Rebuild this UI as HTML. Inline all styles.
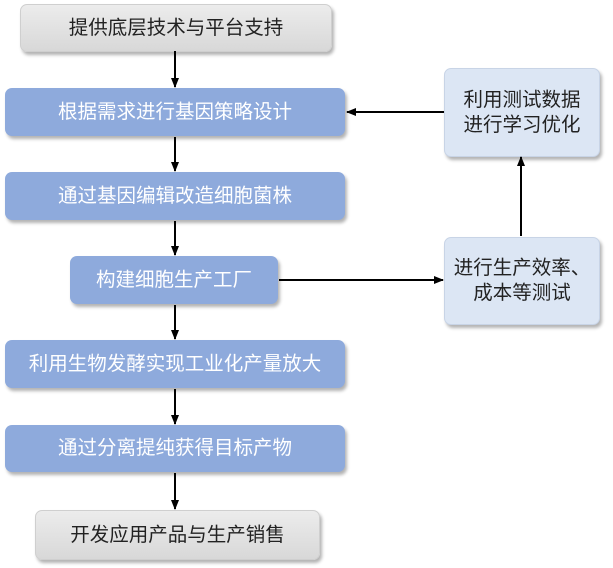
<!DOCTYPE html>
<html><head><meta charset="utf-8"><style>
body{margin:0;width:613px;height:568px;background:#fff;position:relative;overflow:hidden;font-family:"Liberation Sans","Noto Sans CJK SC",sans-serif;}
.b{position:absolute;border-radius:7px;display:flex;align-items:center;justify-content:center;text-align:center;font-size:19.5px;box-shadow:2px 3px 3px rgba(0,0,0,0.3);line-height:25px;}
.g{background:linear-gradient(#ececec,#d8d8d8);color:#222;border:1px solid #cfcfcf;}
.u{background:#8eaadc;color:#fff;}
.l{background:#dce6f4;color:#222;border:1px solid #c8d4e6;}
</style></head><body>
<div class="b g" style="left:20px;top:4px;width:310px;height:46px;">提供底层技术与平台支持</div>
<div class="b u" style="left:5px;top:88px;width:340px;height:48px;">根据需求进行基因策略设计</div>
<div class="b u" style="left:5px;top:172px;width:340px;height:48px;">通过基因编辑改造细胞菌株</div>
<div class="b u" style="left:70px;top:256px;width:208px;height:48px;">构建细胞生产工厂</div>
<div class="b u" style="left:5px;top:340px;width:340px;height:48px;">利用生物发酵实现工业化产量放大</div>
<div class="b u" style="left:5px;top:425px;width:340px;height:47px;">通过分离提纯获得目标产物</div>
<div class="b g" style="left:35px;top:510px;width:283px;height:48px;">开发应用产品与生产销售</div>
<div class="b l" style="left:444px;top:68px;width:154px;height:87px;">利用测试数据<br>进行学习优化</div>
<div class="b l" style="left:444px;top:237px;width:154px;height:86px;">进行生产效率、<br>成本等测试</div>
<svg width="613" height="568" style="position:absolute;left:0;top:0" viewBox="0 0 613 568">
<defs><marker id="a" markerWidth="10" markerHeight="10" refX="9" refY="5" orient="auto" markerUnits="userSpaceOnUse"><path d="M0,1 L10,5 L0,9 z" fill="#000"/></marker></defs>
<g stroke="#000" stroke-width="2" fill="none" marker-end="url(#a)">
<line x1="175" y1="51" x2="175" y2="87"/>
<line x1="175" y1="137" x2="175" y2="171"/>
<line x1="175" y1="221" x2="175" y2="255"/>
<line x1="175" y1="305" x2="175" y2="339"/>
<line x1="175" y1="389" x2="175" y2="424"/>
<line x1="175" y1="473" x2="175" y2="509"/>
<line x1="444" y1="112" x2="347" y2="112"/>
<line x1="279" y1="280" x2="443" y2="280"/>
<line x1="521" y1="236" x2="521" y2="157"/>
</g></svg>
</body></html>
